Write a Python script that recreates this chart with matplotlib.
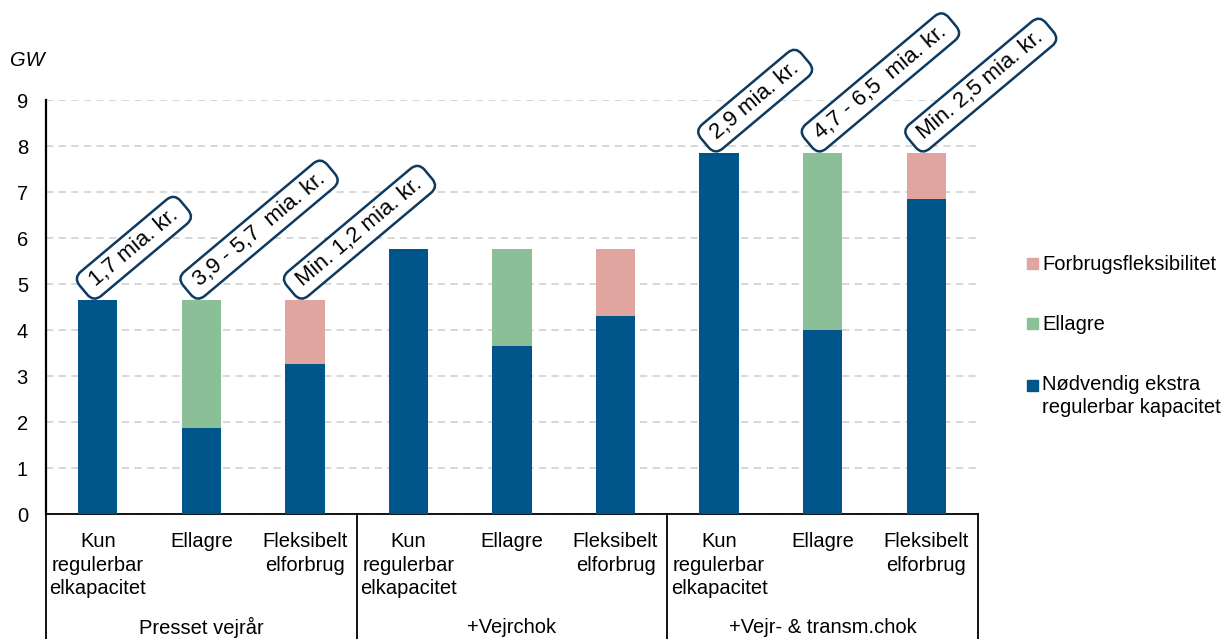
import numpy as np
import matplotlib
matplotlib.use("Agg")
import matplotlib.pyplot as plt
import matplotlib.transforms as mtransforms
from matplotlib.patches import Rectangle

plt.rcParams['font.family'] = ['Liberation Sans', 'DejaVu Sans']

# data (GW)
categories = ["Kun\nregulerbar\nelkapacitet", "Ellagre", "Fleksibelt\nelforbrug"] * 3
groups = ["Presset vejrår", "+Vejrchok", "+Vejr- & transm.chok"]
regulerbar = [4.65, 1.87, 3.26, 5.76, 3.65, 4.30, 7.85, 4.00, 6.85]
ellagre = [0, 2.78, 0, 0, 2.11, 0, 0, 3.85, 0]
forbrug = [0, 0, 1.39, 0, 0, 1.46, 0, 0, 1.00]
costs = [" 1,7 mia. kr. ", " 3,9 - 5,7  mia. kr. ", " Min. 1,2 mia. kr. ",
         None, None, None,
         " 2,9 mia. kr. ", " 4,7 - 6,5  mia. kr. ", " Min. 2,5 mia. kr. "]
legend_labels = ["Forbrugsfleksibilitet", "Ellagre",
                 "Nødvendig ekstra\nregulerbar kapacitet"]

BLUE = "#00558a"
GREEN = "#8bbf98"
PINK = "#e1a5a0"
NAVY = "#0d3a60"
FS = 14.5

W, H = 1232, 639
fig = plt.figure(figsize=(W / 100, H / 100), dpi=100)
ax = fig.add_axes([46 / W, 1 - 514 / H, (978 - 46) / W, (514 - 100) / H])

x = np.arange(len(categories))
bottom2 = np.add(regulerbar, ellagre)
totals = bottom2 + np.array(forbrug)

ax.bar(x, regulerbar, width=0.38, color=BLUE, linewidth=0, zorder=3)
ax.bar(x, ellagre, width=0.38, bottom=regulerbar, color=GREEN, linewidth=0, zorder=3)
ax.bar(x, forbrug, width=0.38, bottom=bottom2, color=PINK, linewidth=0, zorder=3)

ax.set_xlim(-0.5, len(categories) - 0.5)
ax.set_ylim(0, 9)
ax.set_yticks(range(10))
ax.yaxis.grid(True, color="#d4d4d4", linestyle=(0, (4, 3)), linewidth=1.3, zorder=0)
ax.set_axisbelow(True)
for side in ["top", "right"]:
    ax.spines[side].set_visible(False)
ax.spines["left"].set_linewidth(1.6)
ax.spines["bottom"].set_linewidth(1.3)
ax.tick_params(axis="y", length=0, pad=13, labelsize=FS)

ax.set_xticks(x, categories)
ax.tick_params(axis="x", length=0, pad=13, labelsize=FS)
for lbl in ax.get_xticklabels():
    lbl.set_linespacing(1.3)

# group separators and group names below the axis
trans = mtransforms.blended_transform_factory(ax.transData, ax.transAxes)
for b in [-0.5, 2.5, 5.5, 8.5]:
    ax.plot([b, b], [0, -0.32], transform=trans, color="black", lw=1.3,
            clip_on=False)
for i, g in enumerate(groups):
    ax.text(3 * i + 1, -0.274, g, transform=trans, ha="center", va="center",
            fontsize=FS)

# cost labels
for i, label in enumerate(costs):
    if label is None:
        continue
    ax.annotate(label, xy=(x[i], totals[i]), xytext=(-2.5, 3.9),
                textcoords="offset points", rotation=40, rotation_mode="anchor",
                ha="left", va="bottom", fontsize=16, zorder=6,
                bbox=dict(boxstyle="round,pad=0.24,rounding_size=0.45",
                          fc="white", ec=NAVY, lw=1.8))

fig.text(10 / W, 1 - 60 / H, "GW", style="italic", va="center", fontsize=FS)

# legend drawn by hand to keep the square next to the first line
marker_y = [263.5, 323.5, 385.5]
text_y = [264, 325, 396]
for lab, col, my, ty in zip(legend_labels, [PINK, GREEN, BLUE], marker_y, text_y):
    fig.patches.append(Rectangle((1027 / W, 1 - (my + 5.5) / H), 11 / W, 11 / H,
                                 transform=fig.transFigure, color=col))
    fig.text(1042 / W, 1 - ty / H, lab, va="center", ha="left", fontsize=FS,
             linespacing=1.22)

fig.savefig("out.png", dpi=100)
